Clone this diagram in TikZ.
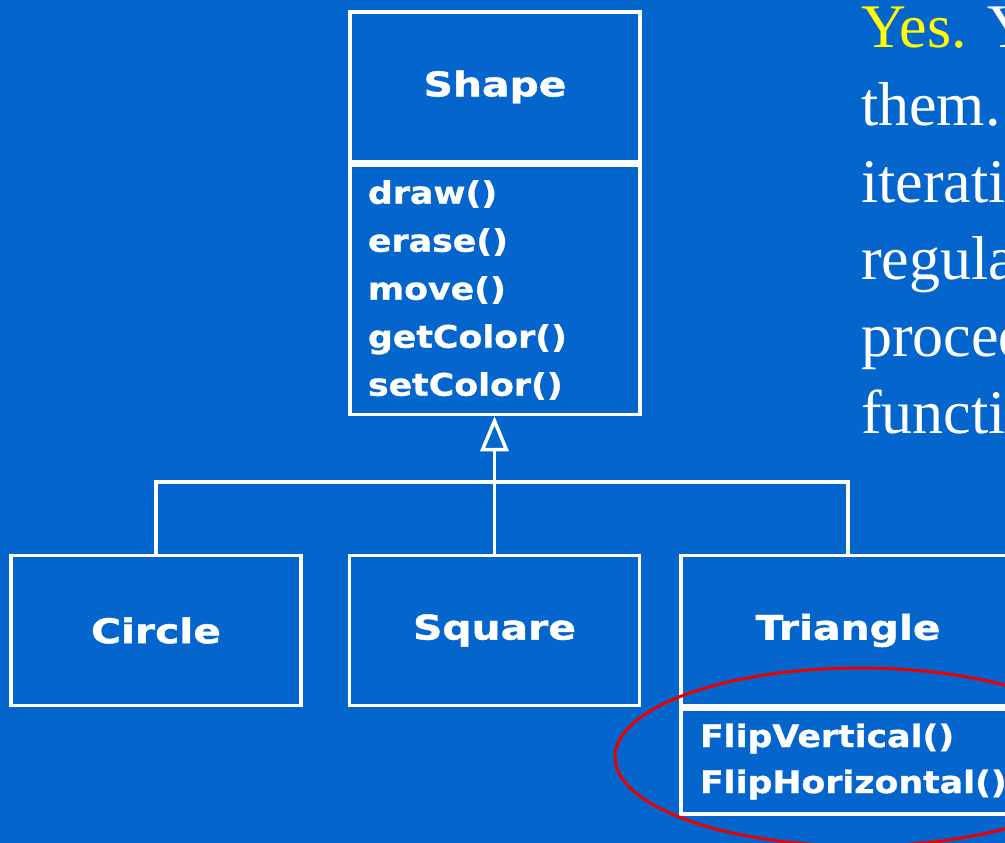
\documentclass[tikz,border=0pt]{standalone}
\usepackage{fontspec}
\setmainfont{Liberation Serif}
\newfontfamily\umlname[FakeStretch=1.2, BoldFeatures={FakeBold=1.2}]{DejaVu Sans}
\newfontfamily\umlops[FakeStretch=1.12, BoldFeatures={FakeBold=1}]{DejaVu Sans}
\usetikzlibrary{positioning,arrows.meta}
\definecolor{slide}{RGB}{4,102,204}
\definecolor{yes}{RGB}{255,255,0}
\definecolor{highlightred}{RGB}{235,0,0}
\tikzset{
  classbox/.style={draw=white, line width=3.5pt, text=white, inner sep=0pt},
  classname/.style={classbox, minimum width=290pt, minimum height=150pt,
    font=\umlname\bfseries\fontsize{34}{40}\selectfont},
  classops/.style={classbox, align=left, inner xsep=18pt,
    font=\umlops\bfseries\fontsize{31}{48}\selectfont},
  tree/.style={draw=white, line width=3.5pt}
  }
\tikzstyle{slidetext} = [anchor=base west, inner sep=0pt, text=white, font=\fontsize{62}{77}\selectfont]

\begin{document}
\begin{tikzpicture}[x=1pt, y=-1pt]
  \useasboundingbox (0,0) rectangle (1005,843);
  \clip (0,0) rectangle (1005,843);
  \fill[slide] (0,0) rectangle (1005,843);

  % superclass
  \node[classname] (shapeName) at (495,87) {Shape};
  \node[classops, text width=254pt, minimum height=249pt, below=0pt of shapeName] (shapeOps)
    {draw()\\erase()\\move()\\getColor()\\setColor()};

  % subclasses
  \node[classname] (circle) at (156,630.5) {Circle};
  \node[classname] (square) at (494.5,630.5) {Square};
  \node[classname, minimum width=334pt] (triName) at (848,630.5) {Triangle};
  \node[classops, text width=296pt, inner xsep=19pt, minimum height=105pt,
    font=\umlops\bfseries\fontsize{31}{46}\selectfont, below=0pt of triName] (triOps)
    {FlipVertical()\\FlipHorizontal()};

  \coordinate (bus) at (494.5,482);
  \draw[tree] (circle.north) |- (bus) -| (triName.north);
  \draw[tree, -{Triangle[open, length=35pt, width=28pt]}] (square.north) -- (square.north |- shapeOps.south);

  \draw[draw=highlightred, line width=3pt] (860,757) ellipse [x radius=245, y radius=89];

  % text on the right
  \foreach \line [count=\i] in {{\textcolor{yes}{Yes.} You}, them., iteration, regular, procedures, functions}
    \node[slidetext] (txt\i) at (861,{48+77*(\i-1)}) {\line};
\end{tikzpicture}
\end{document}
